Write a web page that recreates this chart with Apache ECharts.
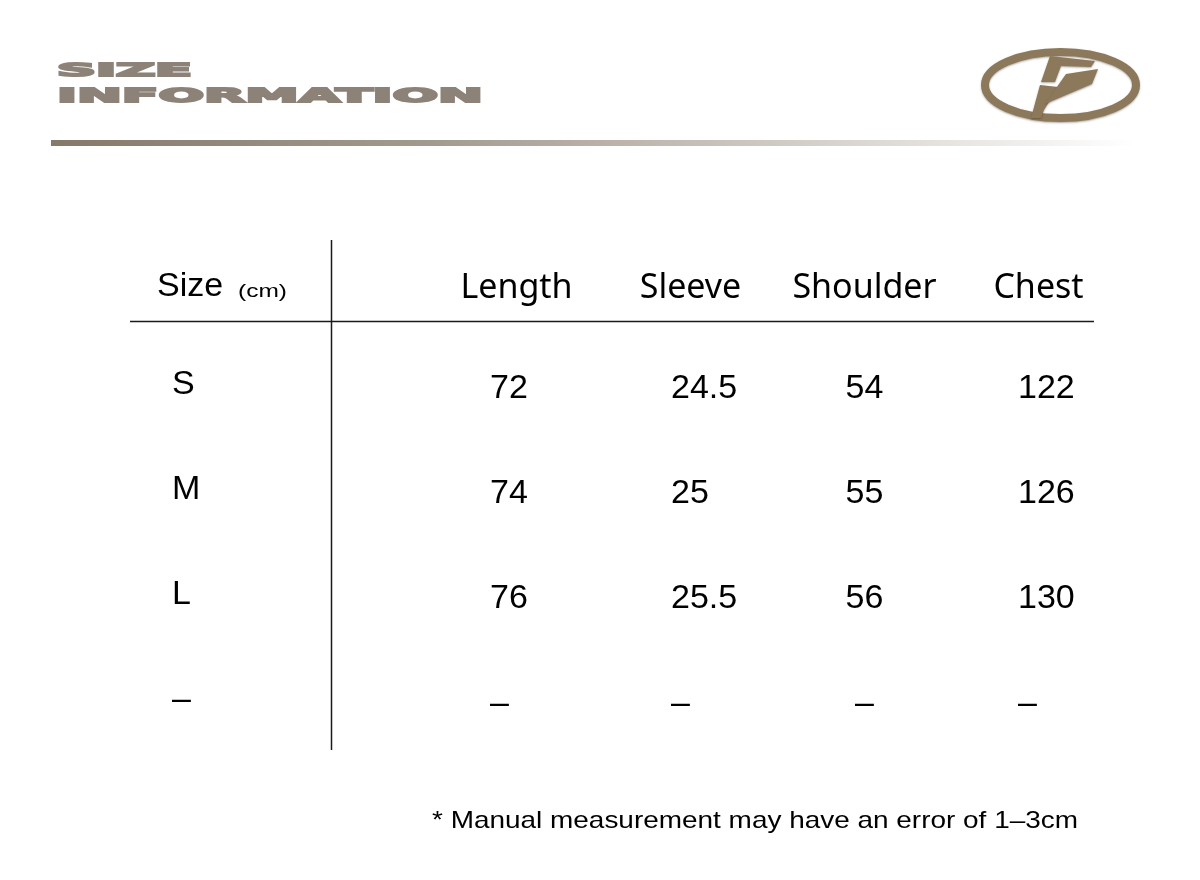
<!DOCTYPE html>
<html>
<head>
<meta charset="utf-8">
<script src="https://cdn.jsdelivr.net/npm/echarts@6/dist/echarts.min.js"></script>
<style>
html,body{margin:0;padding:0;background:#fff;}
#chart{width:1200px;height:880px;}
</style>
</head>
<body>
<div id="chart"></div>
<script>
// ---- data ----
var sizes = ['S', 'M', 'L', '–'];
var columns = ['Length', 'Sleeve', 'Shoulder', 'Chest'];
var lengthVals = ['72', '74', '76', '–'];
var sleeveVals = ['24.5', '25', '25.5', '–'];
var shoulderVals = ['54', '55', '56', '–'];
var chestVals = ['122', '126', '130', '–'];
var titleLine1 = 'SIZE';
var titleLine2 = 'INFORMATION';
var unitMain = 'Size';
var unitSub = '(cm)';
var footnote = '* Manual measurement may have an error of 1–3cm';

var chart = echarts.init(document.getElementById('chart'), null, {renderer: 'canvas'});

function measure(text, font) {
  var c = document.createElement('canvas').getContext('2d');
  c.font = font;
  return c.measureText(text).width;
}
var titleFont = 'DejaVu Sans';
var w1 = measure(titleLine1, 'bold 18px "' + titleFont + '"');
var w2 = measure(titleLine2, 'bold 20px "' + titleFont + '"');
var wf = measure(footnote, '24px "Liberation Sans"');
var wu = measure(unitSub, '18px "Liberation Sans"');

var BROWN = '#8c785a';

function colSeries(name, vals, align, dx) {
  return {
    type: 'scatter',
    name: name,
    symbol: 'circle',
    symbolSize: 1,
    itemStyle: {color: 'rgba(0,0,0,0)', opacity: 1},
    silent: true,
    data: vals.map(function (v, i) { return [name, sizes[i], v]; }),
    label: {
      show: true,
      position: 'inside',
      align: align,
      verticalAlign: 'middle',
      offset: [dx, 4.5],
      opacity: 1,
      textBorderWidth: 0,
      fontFamily: 'Liberation Sans',
      fontSize: 34,
      color: '#000',
      formatter: function (p) { return p.value[2]; }
    }
  };
}

var option = {
  animation: false,
  backgroundColor: '#ffffff',
  grid: {left: 429.5, right: 74.5, top: 332, bottom: 128},
  xAxis: {
    type: 'category',
    position: 'top',
    data: columns,
    axisLine: {show: false},
    axisTick: {show: false},
    splitLine: {show: false},
    axisLabel: {
      interval: 0,
      hideOverlap: false,
      margin: 44,
      verticalAlign: 'middle',
      fontFamily: 'Noto Sans',
      fontSize: 34,
      color: '#000'
    }
  },
  yAxis: {
    type: 'category',
    inverse: true,
    data: sizes,
    axisLine: {show: false},
    axisTick: {show: false},
    splitLine: {show: false},
    axisLabel: {
      interval: 0,
      margin: 257.5,
      align: 'left',
      fontFamily: 'Liberation Sans',
      fontSize: 34,
      color: '#000'
    }
  },
  series: [
    colSeries('Length', lengthVals, 'left', -26.5),
    colSeries('Sleeve', sleeveVals, 'left', -19.5),
    colSeries('Shoulder', shoulderVals, 'center', 0),
    colSeries('Chest', chestVals, 'left', -20.5)
  ],
  graphic: [
    // title
    {
      type: 'text', x: 57, y: 71.5, scaleX: 135 / w1, silent: true,
      style: {text: titleLine1, fontFamily: titleFont, fontWeight: 'bold', fontSize: 18,
        fill: '#8d8277', stroke: '#8d8277', lineWidth: 1.8, verticalAlign: 'middle', align: 'left'}
    },
    {
      type: 'text', x: 57, y: 97, scaleX: 426 / w2, silent: true,
      style: {text: titleLine2, fontFamily: titleFont, fontWeight: 'bold', fontSize: 20,
        fill: '#8d8277', stroke: '#8d8277', lineWidth: 1.8, verticalAlign: 'middle', align: 'left'}
    },
    // gradient rule
    {
      type: 'rect', silent: true,
      shape: {x: 51, y: 140, width: 1085, height: 6},
      style: {
        fill: new echarts.graphic.LinearGradient(0, 0, 1, 0, [
          {offset: 0, color: '#857969'},
          {offset: 0.35, color: '#a39a8f'},
          {offset: 0.65, color: '#cdc7c0'},
          {offset: 1, color: '#ffffff'}
        ])
      }
    },
    // logo ring
    {
      type: 'ellipse', silent: true,
      shape: {cx: 1060.5, cy: 85, rx: 75.5, ry: 33},
      style: {fill: 'none', stroke: BROWN, lineWidth: 8, shadowBlur: 2, shadowOffsetY: 1, shadowColor: 'rgba(60,45,20,0.4)'}
    },
    {
      type: 'polygon', silent: true,
      shape: {points: [[1050, 56], [1095, 61], [1091, 67], [1061, 66], [1055, 82], [1041, 82]]},
      style: {fill: BROWN, shadowBlur: 2, shadowOffsetY: 1, shadowColor: 'rgba(60,45,20,0.4)'}
    },
    {
      type: 'polygon', silent: true,
      shape: {points: [[1040, 85], [1058, 87], [1044, 110], [1041, 118], [1031, 118]]},
      style: {fill: BROWN, shadowBlur: 2, shadowOffsetY: 1, shadowColor: 'rgba(60,45,20,0.4)'}
    },
    {
      type: 'polygon', silent: true,
      shape: {points: [[1098, 69], [1066, 74], [1045, 104], [1092, 84]]},
      style: {fill: BROWN, shadowBlur: 2, shadowOffsetY: 1, shadowColor: 'rgba(60,45,20,0.4)'}
    },
    // table rules
    {
      type: 'line', silent: true,
      shape: {x1: 130, y1: 321.5, x2: 1094, y2: 321.5},
      style: {stroke: '#1a1a1a', lineWidth: 1.5}
    },
    {
      type: 'line', silent: true,
      shape: {x1: 331.5, y1: 240, x2: 331.5, y2: 750},
      style: {stroke: '#1a1a1a', lineWidth: 1.5}
    },
    // header "Size (cm)"
    {
      type: 'text', x: 157, y: 287, silent: true,
      style: {text: unitMain, fontFamily: 'Liberation Sans', fontSize: 34, fill: '#000', verticalAlign: 'middle'}
    },
    {
      type: 'text', x: 238, y: 292, scaleX: 49 / wu, silent: true,
      style: {text: unitSub, fontFamily: 'Liberation Sans', fontSize: 18, fill: '#000', verticalAlign: 'middle'}
    },
    // footnote
    {
      type: 'text', x: 432, y: 821, scaleX: 646 / wf, silent: true,
      style: {text: footnote, fontFamily: 'Liberation Sans', fontSize: 24, fill: '#000', verticalAlign: 'middle'}
    }
  ]
};
chart.setOption(option);
</script>
</body>
</html>
